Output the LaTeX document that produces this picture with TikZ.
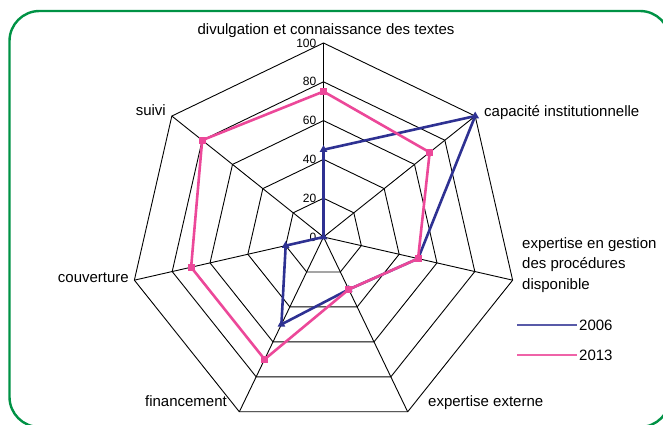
\documentclass[tikz,border=0pt]{standalone}
\usepackage{fontspec}
\setmainfont{Liberation Sans}
\usetikzlibrary{shapes.geometric}
\definecolor{frameg}{RGB}{0,146,69}
\definecolor{serA}{RGB}{46,49,146}
\definecolor{serB}{RGB}{236,72,153}
\begin{document}
\begin{tikzpicture}[x=1pt,y=1pt,
  frame/.style={draw=frameg,line width=2.4pt,rounded corners=30pt},
  gridline/.style={draw=black,line width=0.9pt},
  lbl/.style={font=\fontsize{15}{20.5}\selectfont,inner sep=0pt},
  tick/.style={font=\fontsize{12}{13}\selectfont,inner sep=0pt,anchor=east},
  lineA/.style={draw=serA,line width=2.6pt,line join=round},
  lineB/.style={draw=serB,line width=2.6pt,line join=round},
  markA/.style={regular polygon,regular polygon sides=3,fill=serA,inner sep=0pt,minimum size=9pt},
  markB/.style={rectangle,fill=serB,inner sep=0pt,minimum size=7pt},
  legA/.style={draw=serA!80!white,line width=2.2pt},
  legB/.style={draw=serB!85!white,line width=2.2pt}]
\useasboundingbox (0,0) rectangle (663,424);
\clip (0,0) rectangle (663,424);
\draw[frame] (9.5,-3) rectangle (670,413);
\begin{scope}[shift={(323.5,187)}]
  \coordinate (O) at (0,0);
  \foreach \k in {0,...,6} {\coordinate (v\k) at ({90-\k*360/7}:194);}
  % rings
  \foreach \r in {0.2,0.4,0.6,0.8,1.0} {
    \draw[gridline] (90:\r*194) -- ({90-360/7}:\r*194) -- ({90-2*360/7}:\r*194) -- ({90-3*360/7}:\r*194)
      -- ({90-4*360/7}:\r*194) -- ({90-5*360/7}:\r*194) -- ({90-6*360/7}:\r*194) -- cycle;
  }
  \foreach \k in {0,...,6} {\draw[gridline] (O) -- (v\k);}
  % ticks
  \foreach \t/\r in {0/0,20/0.2,40/0.4,60/0.6,80/0.8,100/1.0} {
    \node[tick] (t\t) at (-7,\r*194) {\t};
  }
  % series 2006
  \foreach \k/\v in {0/0.45,1/1.0,2/0.5,3/0.3,4/0.5,5/0.2,6/0} {
    \coordinate (a\k) at ({90-\k*360/7}:\v*194);
  }
  \draw[lineA] (a0) -- (a1) -- (a2) -- (a3) -- (a4) -- (a5) -- (a6) -- cycle;
  \foreach \k in {0,...,6} {\node[markA] (ma\k) at (a\k) {};}
  % series 2013
  \foreach \k/\v in {0/0.75,1/0.7,2/0.5,3/0.3,4/0.7,5/0.7,6/0.8} {
    \coordinate (b\k) at ({90-\k*360/7}:\v*194);
  }
  \draw[lineB] (b0) -- (b1) -- (b2) -- (b3) -- (b4) -- (b5) -- (b6) -- cycle;
  \foreach \k in {0,...,6} {\node[markB] (mb\k) at (b\k) {};}
\end{scope}
% axis labels
\node[lbl,anchor=base] (L0) at (326,389) {divulgation et connaissance des textes};
\node[lbl,anchor=base west] (L1) at (484,308) {capacité institutionnelle};
\node[lbl,anchor=base west] (L2) at (522,176) {expertise en gestion};
\node[lbl,anchor=base west] (L2b) at (522,155.5) {des procédures};
\node[lbl,anchor=base west] (L2c) at (522,135) {disponible};
\node[lbl,anchor=base west] (L3) at (428,18) {expertise externe};
\node[lbl,anchor=base east] (L4) at (227,18) {financement};
\node[lbl,anchor=base east] (L5) at (129,142) {couverture};
\node[lbl,anchor=base east] (L6) at (166,309) {suivi};
% legend
\coordinate (la1) at (517,99);
\coordinate (la2) at (577,99);
\coordinate (lb1) at (517,69);
\coordinate (lb2) at (577,69);
\draw[legA] (la1) -- (la2);
\draw[legB] (lb1) -- (lb2);
\node[lbl,anchor=base west] (g1) at (579,94) {2006};
\node[lbl,anchor=base west] (g2) at (579,64) {2013};
\end{tikzpicture}
\end{document}
